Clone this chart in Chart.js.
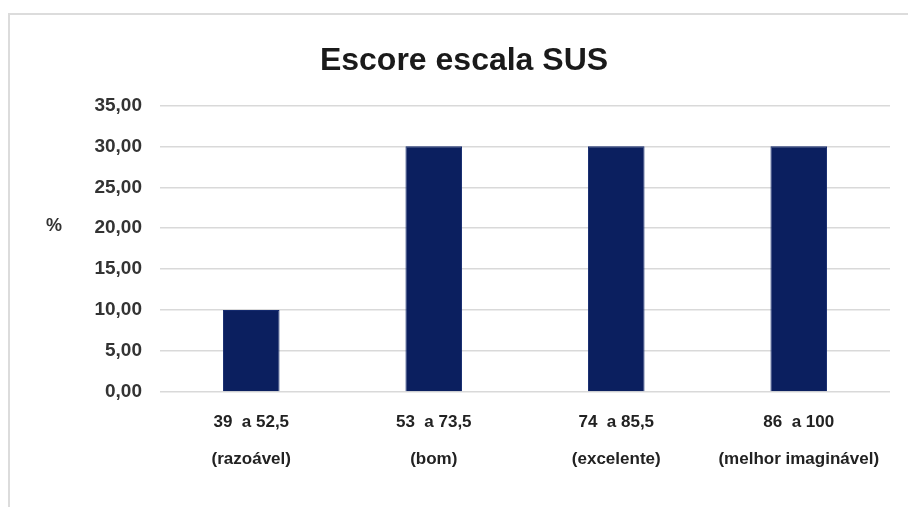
<!DOCTYPE html>
<html>
<head>
<meta charset="utf-8">
<script src="https://cdn.jsdelivr.net/npm/chart.js@4.4.0/dist/chart.umd.min.js"></script>
<style>
    html, body { margin: 0; padding: 0; background: #fff; overflow: hidden; }
    #wrap { position: relative; width: 908px; height: 507px; }
    #frame {
        position: absolute; left: 8px; top: 13px; width: 910px; height: 520px;
        border-left: 2px solid #dcdcdc; border-top: 2px solid #dcdcdc;
    }
    canvas { position: absolute; left: 0; top: 0; }
</style>
</head>
<body>
<div id="wrap">
    <div id="frame"></div>
    <canvas id="susChart" width="908" height="507"></canvas>
</div>
<script>
// Data
const chartTitle = 'Escore escala SUS';
const yAxisLabel = '%';
const categories = [
    ['39  a 52,5', '(razoável)'],
    ['53  a 73,5', '(bom)'],
    ['74  a 85,5', '(excelente)'],
    ['86  a 100', '(melhor imaginável)']
];
const percentages = [10, 30, 30, 30];
const yTicks = [0, 5, 10, 15, 20, 25, 30, 35];

// Draws the horizontal "%" label left of the y axis
const yLabelPlugin = {
    id: 'yLabel',
    afterDraw(chart) {
        const ctx = chart.ctx;
        const y = chart.scales.y;
        ctx.save();
        ctx.font = 'bold 18px "Liberation Sans", Arial, sans-serif';
        ctx.fillStyle = '#333';
        ctx.textAlign = 'center';
        ctx.textBaseline = 'middle';
        ctx.fillText(yAxisLabel, 54, y.getPixelForValue(20) - 2);
        ctx.restore();
    }
};

let ctx = document.getElementById('susChart').getContext('2d');
new Chart(ctx, {
    type: 'bar',
    data: {
        labels: categories,
        datasets: [{
            label: 'SUS',
            data: percentages,
            backgroundColor: '#0b1f5f',
            borderColor: '#142a6e',
            borderWidth: 1,
            barPercentage: 0.31,
            categoryPercentage: 1
        }]
    },
    options: {
        responsive: false,
        animation: false,
        layout: {
            padding: { left: 38, right: 18, top: 0, bottom: 0 }
        },
        plugins: {
            legend: { display: false },
            tooltip: { enabled: false },
            title: {
                display: true,
                text: chartTitle,
                color: '#1a1a1a',
                font: { family: '"Liberation Sans", Arial, sans-serif', size: 32, weight: 'bold', lineHeight: 1.2 },
                padding: { top: 42, bottom: 25 }
            }
        },
        scales: {
            x: {
                grid: { display: false, drawTicks: false },
                border: { display: false },
                ticks: {
                    color: '#222',
                    padding: 12,
                    maxRotation: 0,
                    autoSkip: false,
                    font: { family: '"Liberation Sans Narrow", "Arial Narrow", sans-serif', size: 17, weight: 'bold', lineHeight: 2.15 }
                },
                afterFit(scale) { scale.height = 115; }
            },
            y: {
                min: 0,
                max: 35,
                afterBuildTicks(scale) { scale.ticks = yTicks.map(v => ({ value: v })); },
                grid: { color: '#d9d9d9', lineWidth: 1.5, drawTicks: false },
                border: { display: false },
                ticks: {
                    color: '#333',
                    padding: 18,
                    font: { family: '"Liberation Sans", Arial, sans-serif', size: 19, weight: 'bold' },
                    callback: (v) => v.toFixed(2).replace('.', ',')
                },
                afterFit(scale) { scale.width = 122; }
            }
        }
    },
    plugins: [yLabelPlugin]
});
</script>
</body>
</html>
